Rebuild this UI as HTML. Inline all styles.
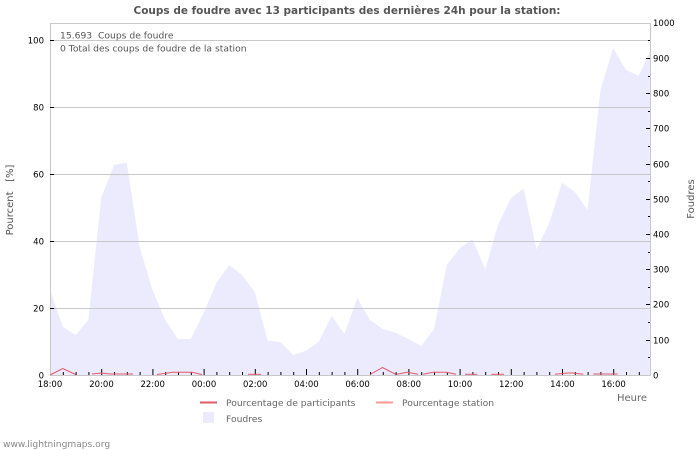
<!DOCTYPE html>
<html><head><meta charset="utf-8"><style>
html,body{margin:0;padding:0;background:#fff;}
svg{display:block;}
text{font-family:"DejaVu Sans","Liberation Sans",sans-serif;}
</style></head><body>
<svg width="700" height="450" viewBox="0 0 700 450" xmlns="http://www.w3.org/2000/svg">
<rect width="700" height="450" fill="#fff"/>
<text x="347" y="14" text-anchor="middle" font-size="10.5" font-weight="bold" fill="#555">Coups de foudre avec 13 participants des dernières 24h pour la station:</text>
<!-- area -->
<path fill="#ebebfd" d="M50,375 L50,290 L62.8,327 L75.6,335 L88.4,320 L101.2,198 L114,165 L126.8,162.7 L139.6,246.7 L152.4,290 L165.2,320 L178,339 L190.8,339 L203.6,313 L216.4,283 L229.2,265 L242,275 L254.8,292 L267.6,340.7 L280.4,342 L293.2,355 L306,350.7 L318.8,341.7 L331.6,315.7 L344.4,334 L357.2,298 L370,320 L382.8,329 L395.6,332.7 L408.4,339 L421.2,346 L434,329 L446.8,265 L459.6,248.3 L472.4,239.3 L485.2,269.3 L498,225 L510.8,198.3 L523.6,188.3 L536.4,249.3 L549.2,223.3 L562,182.7 L574.8,191.7 L587.6,210 L600.4,90 L613.2,48.3 L626,70 L638.8,75.7 L650,51.7 L650,375 Z"/>
<!-- gridlines -->
<g stroke="#c8c8c8" stroke-width="1">
<line x1="50" y1="40.5" x2="650" y2="40.5"/>
<line x1="50" y1="107.5" x2="650" y2="107.5"/>
<line x1="50" y1="174.5" x2="650" y2="174.5"/>
<line x1="50" y1="241.5" x2="650" y2="241.5"/>
<line x1="50" y1="308.5" x2="650" y2="308.5"/>
<line x1="50" y1="23.5" x2="650" y2="23.5"/>
<line x1="50.5" y1="23" x2="50.5" y2="375"/>
<line x1="650.5" y1="23" x2="650.5" y2="375"/>
<line x1="50" y1="375.5" x2="651" y2="375.5"/>
</g>
<!-- left ticks -->
<g stroke="#000" stroke-width="1">
<line x1="50" y1="40.5" x2="54" y2="40.5"/>
<line x1="50" y1="107.5" x2="54" y2="107.5"/>
<line x1="50" y1="174.5" x2="54" y2="174.5"/>
<line x1="50" y1="241.5" x2="54" y2="241.5"/>
<line x1="50" y1="308.5" x2="54" y2="308.5"/>
</g>
<g font-size="8.5" fill="#000" text-anchor="end">
<text x="44" y="43.5">100</text>
<text x="44" y="110.5">80</text>
<text x="44" y="177.5">60</text>
<text x="44" y="244.5">40</text>
<text x="44" y="311.5">20</text>
<text x="44" y="378.5">0</text>
</g>
<!-- right ticks -->
<g stroke="#000" stroke-width="1">
<line x1="646" y1="58.5" x2="650" y2="58.5"/>
<line x1="646" y1="93.5" x2="650" y2="93.5"/>
<line x1="646" y1="128.5" x2="650" y2="128.5"/>
<line x1="646" y1="164.5" x2="650" y2="164.5"/>
<line x1="646" y1="199.5" x2="650" y2="199.5"/>
<line x1="646" y1="234.5" x2="650" y2="234.5"/>
<line x1="646" y1="269.5" x2="650" y2="269.5"/>
<line x1="646" y1="304.5" x2="650" y2="304.5"/>
<line x1="646" y1="340.5" x2="650" y2="340.5"/>
<line x1="648" y1="40.5" x2="650" y2="40.5"/>
<line x1="648" y1="76.5" x2="650" y2="76.5"/>
<line x1="648" y1="111.5" x2="650" y2="111.5"/>
<line x1="648" y1="146.5" x2="650" y2="146.5"/>
<line x1="648" y1="181.5" x2="650" y2="181.5"/>
<line x1="648" y1="216.5" x2="650" y2="216.5"/>
<line x1="648" y1="252.5" x2="650" y2="252.5"/>
<line x1="648" y1="287.5" x2="650" y2="287.5"/>
<line x1="648" y1="322.5" x2="650" y2="322.5"/>
<line x1="648" y1="357.5" x2="650" y2="357.5"/>
</g>
<g font-size="8.5" fill="#000">
<text x="653" y="26">1000</text>
<text x="653" y="61.5">900</text>
<text x="653" y="96.5">800</text>
<text x="653" y="131.5">700</text>
<text x="653" y="167.5">600</text>
<text x="653" y="202.5">500</text>
<text x="653" y="237.5">400</text>
<text x="653" y="272.5">300</text>
<text x="653" y="307.5">200</text>
<text x="653" y="343.5">100</text>
<text x="653" y="378.5">0</text>
</g>
<!-- x ticks -->
<g stroke="#000" stroke-width="1">
<line x1="63.3" y1="372" x2="63.3" y2="375"/>
<line x1="76.1" y1="372" x2="76.1" y2="375"/>
<line x1="88.9" y1="372" x2="88.9" y2="375"/>
<line x1="101.7" y1="369" x2="101.7" y2="375"/>
<line x1="114.5" y1="372" x2="114.5" y2="375"/>
<line x1="127.3" y1="372" x2="127.3" y2="375"/>
<line x1="140.1" y1="372" x2="140.1" y2="375"/>
<line x1="152.9" y1="369" x2="152.9" y2="375"/>
<line x1="165.7" y1="372" x2="165.7" y2="375"/>
<line x1="178.5" y1="372" x2="178.5" y2="375"/>
<line x1="191.3" y1="372" x2="191.3" y2="375"/>
<line x1="204.1" y1="369" x2="204.1" y2="375"/>
<line x1="216.9" y1="372" x2="216.9" y2="375"/>
<line x1="229.7" y1="372" x2="229.7" y2="375"/>
<line x1="242.5" y1="372" x2="242.5" y2="375"/>
<line x1="255.3" y1="369" x2="255.3" y2="375"/>
<line x1="268.1" y1="372" x2="268.1" y2="375"/>
<line x1="280.9" y1="372" x2="280.9" y2="375"/>
<line x1="293.7" y1="372" x2="293.7" y2="375"/>
<line x1="306.5" y1="369" x2="306.5" y2="375"/>
<line x1="319.3" y1="372" x2="319.3" y2="375"/>
<line x1="332.1" y1="372" x2="332.1" y2="375"/>
<line x1="344.9" y1="372" x2="344.9" y2="375"/>
<line x1="357.7" y1="369" x2="357.7" y2="375"/>
<line x1="370.5" y1="372" x2="370.5" y2="375"/>
<line x1="383.3" y1="372" x2="383.3" y2="375"/>
<line x1="396.1" y1="372" x2="396.1" y2="375"/>
<line x1="408.9" y1="369" x2="408.9" y2="375"/>
<line x1="421.7" y1="372" x2="421.7" y2="375"/>
<line x1="434.5" y1="372" x2="434.5" y2="375"/>
<line x1="447.3" y1="372" x2="447.3" y2="375"/>
<line x1="460.1" y1="369" x2="460.1" y2="375"/>
<line x1="472.9" y1="372" x2="472.9" y2="375"/>
<line x1="485.7" y1="372" x2="485.7" y2="375"/>
<line x1="498.5" y1="372" x2="498.5" y2="375"/>
<line x1="511.3" y1="369" x2="511.3" y2="375"/>
<line x1="524.1" y1="372" x2="524.1" y2="375"/>
<line x1="536.9" y1="372" x2="536.9" y2="375"/>
<line x1="549.7" y1="372" x2="549.7" y2="375"/>
<line x1="562.5" y1="369" x2="562.5" y2="375"/>
<line x1="575.3" y1="372" x2="575.3" y2="375"/>
<line x1="588.1" y1="372" x2="588.1" y2="375"/>
<line x1="600.9" y1="372" x2="600.9" y2="375"/>
<line x1="613.7" y1="369" x2="613.7" y2="375"/>
<line x1="626.5" y1="372" x2="626.5" y2="375"/>
<line x1="639.3" y1="372" x2="639.3" y2="375"/>
</g>
<g font-size="8.5" fill="#000" text-anchor="middle">
<text x="50" y="387">18:00</text>
<text x="101.5" y="387">20:00</text>
<text x="152.7" y="387">22:00</text>
<text x="204" y="387">00:00</text>
<text x="255.2" y="387">02:00</text>
<text x="306.4" y="387">04:00</text>
<text x="357.6" y="387">06:00</text>
<text x="408.8" y="387">08:00</text>
<text x="460" y="387">10:00</text>
<text x="511.2" y="387">12:00</text>
<text x="562.4" y="387">14:00</text>
<text x="613.6" y="387">16:00</text>
</g>
<!-- red participant lines -->
<g fill="none" stroke="#e05a6c" stroke-width="1">
<polyline points="50,375 62.8,368.5 75.6,374.5"/>
<polyline points="92,374 101.5,373 110,374 133,374"/>
<polyline points="157,374.5 173,372.3 192,372.3 202,374.5"/>
<polyline points="248,374.3 261,374.3"/>
<polyline points="370,374.5 382.5,367.5 395.6,374.3"/>
<polyline points="397,374.3 407.3,372.3 418,374.3"/>
<polyline points="423,374.3 433,372.3 446.5,372.3 456,374.3"/>
<polyline points="465,374.3 477.3,374.3"/>
<polyline points="491.3,374.3 504,374.3"/>
<polyline points="555,374.3 568,373 573,373 583.3,374.3"/>
<polyline points="593.3,374 617.7,374"/>
</g>
<!-- info text -->
<text x="60" y="38.5" font-size="9.2" fill="#555" xml:space="preserve">15.693  Coups de foudre</text>
<text x="60" y="51.5" font-size="9.2" fill="#555">0 Total des coups de foudre de la station</text>
<!-- axis titles -->
<text transform="translate(13,200) rotate(-90)" text-anchor="middle" font-size="10" fill="#555" xml:space="preserve">Pourcent   [%]</text>
<text transform="translate(694,199) rotate(-90)" text-anchor="middle" font-size="10" fill="#555">Foudres</text>
<text x="647" y="401" text-anchor="end" font-size="10" fill="#666">Heure</text>
<!-- legend -->
<line x1="200" y1="402.5" x2="217" y2="402.5" stroke="#e05a6c" stroke-width="2"/>
<text x="226" y="406" font-size="9.2" fill="#666">Pourcentage de participants</text>
<line x1="376" y1="402.5" x2="393" y2="402.5" stroke="#ff9999" stroke-width="2"/>
<text x="402" y="406" font-size="9.2" fill="#666">Pourcentage station</text>
<rect x="203" y="412" width="11" height="11" fill="#ebebfd"/>
<text x="226" y="422" font-size="9.2" fill="#666">Foudres</text>
<text x="3" y="447" font-size="9.1" fill="#888">www.lightningmaps.org</text>
</svg>
</body></html>
